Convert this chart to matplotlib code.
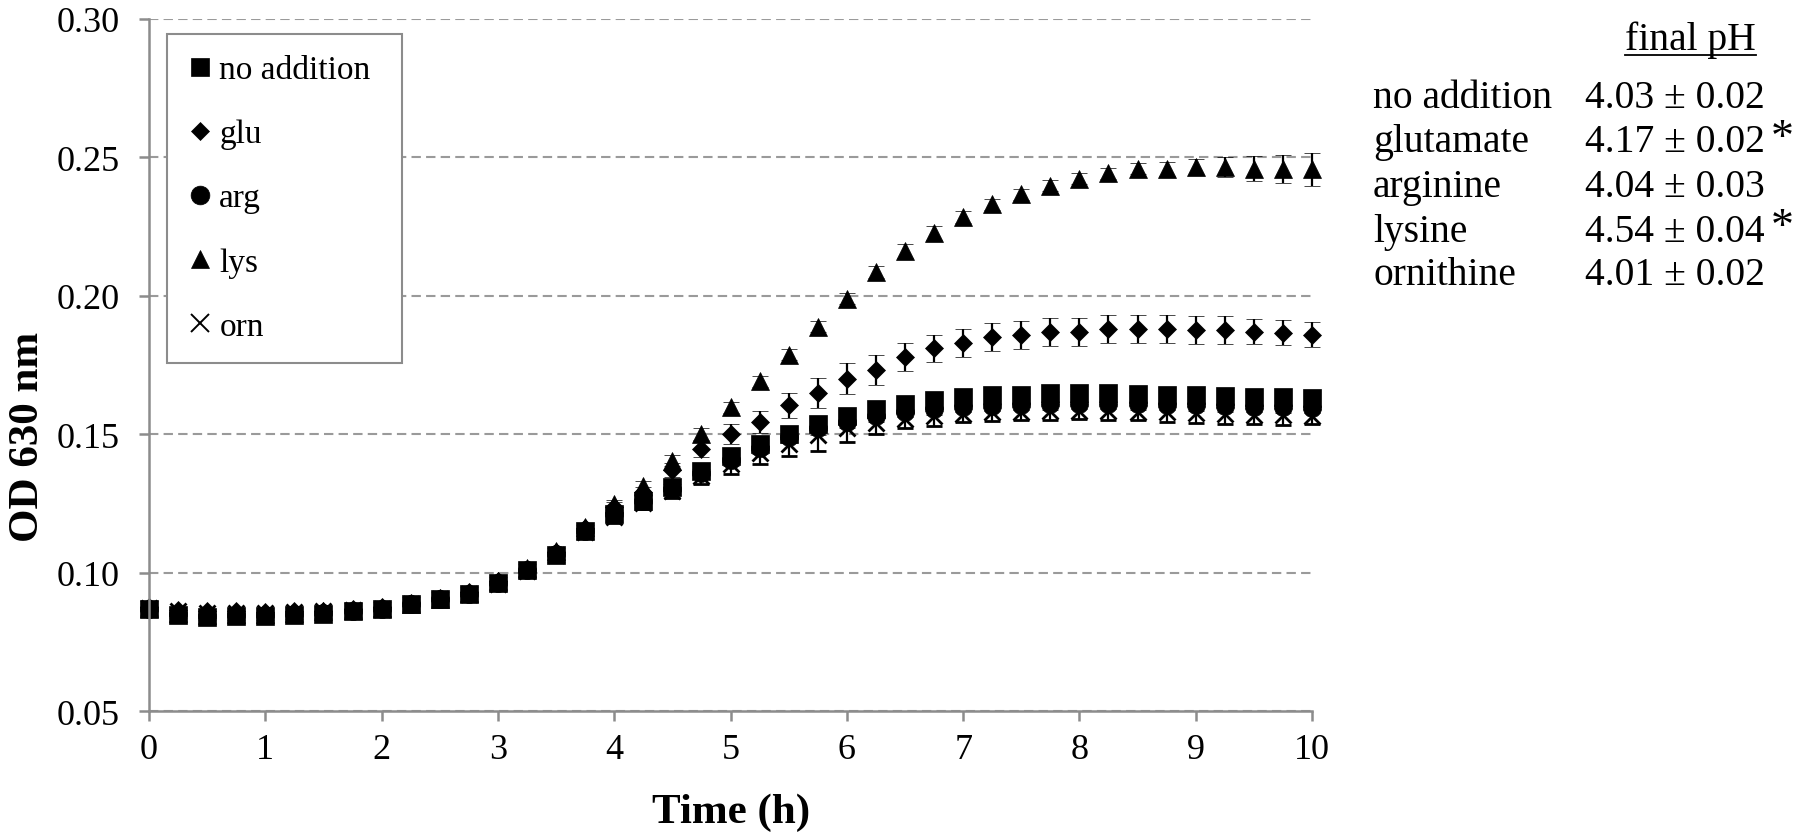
import matplotlib
matplotlib.use("Agg")
import matplotlib.pyplot as plt
from matplotlib.lines import Line2D
import numpy as np

plt.rcParams['font.family'] = ['Liberation Serif', 'DejaVu Serif']

# time points (h), every 15 min
time_h = [0.0, 0.25, 0.5, 0.75, 1.0, 1.25, 1.5, 1.75, 2.0, 2.25, 2.5, 2.75,
          3.0, 3.25, 3.5, 3.75, 4.0, 4.25, 4.5, 4.75, 5.0, 5.25, 5.5, 5.75,
          6.0, 6.25, 6.5, 6.75, 7.0, 7.25, 7.5, 7.75, 8.0, 8.25, 8.5, 8.75,
          9.0, 9.25, 9.5, 9.75, 10.0]

od_none = [0.0870, 0.0848, 0.0838, 0.0842, 0.0842, 0.0848, 0.0852, 0.0860, 0.0868, 0.0885, 0.0903, 0.0922,
           0.0962, 0.1008, 0.1065, 0.1150, 0.1210, 0.1260, 0.1310, 0.1365, 0.1420, 0.1465, 0.1500, 0.1535,
           0.1565, 0.1590, 0.1610, 0.1622, 0.1635, 0.1640, 0.1642, 0.1648, 0.1648, 0.1648, 0.1645, 0.1642,
           0.1640, 0.1638, 0.1635, 0.1632, 0.1630]
err_none = [0.0010, 0.0010, 0.0010, 0.0010, 0.0010, 0.0010, 0.0010, 0.0010, 0.0010, 0.0010, 0.0010, 0.0010,
            0.0012, 0.0012, 0.0012, 0.0015, 0.0015, 0.0015, 0.0018, 0.0020, 0.0020, 0.0020, 0.0020, 0.0020,
            0.0020, 0.0018, 0.0018, 0.0018, 0.0018, 0.0018, 0.0018, 0.0018, 0.0018, 0.0018, 0.0018, 0.0018,
            0.0018, 0.0018, 0.0018, 0.0018, 0.0018]

od_glu = [0.0875, 0.0865, 0.0860, 0.0860, 0.0858, 0.0860, 0.0862, 0.0868, 0.0875, 0.0890, 0.0908, 0.0928,
          0.0968, 0.1012, 0.1075, 0.1160, 0.1235, 0.1290, 0.1370, 0.1446, 0.1500, 0.1544, 0.1603, 0.1648,
          0.1700, 0.1731, 0.1779, 0.1809, 0.1829, 0.1849, 0.1858, 0.1869, 0.1869, 0.1879, 0.1879, 0.1879,
          0.1876, 0.1876, 0.1870, 0.1866, 0.1858]
err_glu = [0.0010, 0.0010, 0.0010, 0.0010, 0.0010, 0.0010, 0.0010, 0.0010, 0.0010, 0.0010, 0.0010, 0.0012,
           0.0012, 0.0012, 0.0015, 0.0015, 0.0020, 0.0020, 0.0025, 0.0030, 0.0035, 0.0040, 0.0045, 0.0055,
           0.0055, 0.0055, 0.0050, 0.0050, 0.0050, 0.0050, 0.0050, 0.0050, 0.0050, 0.0050, 0.0050, 0.0050,
           0.0050, 0.0050, 0.0045, 0.0045, 0.0045]

od_arg = [0.0870, 0.0850, 0.0842, 0.0845, 0.0845, 0.0850, 0.0855, 0.0862, 0.0870, 0.0886, 0.0904, 0.0924,
          0.0964, 0.1010, 0.1068, 0.1150, 0.1210, 0.1258, 0.1300, 0.1360, 0.1405, 0.1450, 0.1490, 0.1520,
          0.1545, 0.1565, 0.1580, 0.1590, 0.1598, 0.1602, 0.1605, 0.1608, 0.1610, 0.1610, 0.1608, 0.1605,
          0.1603, 0.1600, 0.1598, 0.1596, 0.1595]
err_arg = [0.0010, 0.0010, 0.0010, 0.0010, 0.0010, 0.0010, 0.0010, 0.0010, 0.0010, 0.0010, 0.0010, 0.0010,
           0.0012, 0.0012, 0.0012, 0.0015, 0.0015, 0.0018, 0.0020, 0.0020, 0.0022, 0.0022, 0.0022, 0.0022,
           0.0022, 0.0020, 0.0020, 0.0020, 0.0020, 0.0020, 0.0020, 0.0020, 0.0020, 0.0020, 0.0020, 0.0020,
           0.0020, 0.0020, 0.0020, 0.0020, 0.0020]

od_lys = [0.0872, 0.0855, 0.0848, 0.0850, 0.0850, 0.0855, 0.0860, 0.0866, 0.0872, 0.0888, 0.0906, 0.0926,
          0.0968, 0.1015, 0.1078, 0.1164, 0.1247, 0.1313, 0.1404, 0.1500, 0.1596, 0.1690, 0.1786, 0.1887,
          0.1989, 0.2084, 0.2162, 0.2225, 0.2282, 0.2330, 0.2366, 0.2396, 0.2421, 0.2442, 0.2457, 0.2457,
          0.2464, 0.2464, 0.2458, 0.2456, 0.2455]
err_lys = [0.0010, 0.0010, 0.0010, 0.0010, 0.0010, 0.0010, 0.0010, 0.0010, 0.0010, 0.0010, 0.0010, 0.0010,
           0.0012, 0.0012, 0.0012, 0.0015, 0.0015, 0.0018, 0.0020, 0.0020, 0.0020, 0.0020, 0.0020, 0.0020,
           0.0020, 0.0022, 0.0025, 0.0025, 0.0022, 0.0020, 0.0020, 0.0020, 0.0020, 0.0020, 0.0020, 0.0025,
           0.0030, 0.0035, 0.0045, 0.0050, 0.0060]

od_orn = [0.0872, 0.0860, 0.0855, 0.0855, 0.0855, 0.0858, 0.0860, 0.0865, 0.0870, 0.0885, 0.0903, 0.0922,
          0.0960, 0.1005, 0.1062, 0.1145, 0.1200, 0.1250, 0.1295, 0.1350, 0.1390, 0.1430, 0.1465, 0.1495,
          0.1520, 0.1540, 0.1555, 0.1565, 0.1572, 0.1578, 0.1580, 0.1582, 0.1583, 0.1582, 0.1580, 0.1578,
          0.1575, 0.1572, 0.1570, 0.1568, 0.1565]
err_orn = [0.0010, 0.0010, 0.0010, 0.0010, 0.0010, 0.0010, 0.0010, 0.0010, 0.0010, 0.0010, 0.0010, 0.0010,
           0.0012, 0.0012, 0.0015, 0.0015, 0.0020, 0.0020, 0.0025, 0.0030, 0.0035, 0.0040, 0.0045, 0.0055,
           0.0050, 0.0040, 0.0035, 0.0035, 0.0030, 0.0030, 0.0030, 0.0030, 0.0030, 0.0030, 0.0030, 0.0035,
           0.0035, 0.0035, 0.0035, 0.0035, 0.0030]

legend_labels = ['no addition', 'glu', 'arg', 'lys', 'orn']
ph_names = ['no addition', 'glutamate', 'arginine', 'lysine', 'ornithine']
ph_values = ['4.03 \u00b1 0.02', '4.17 \u00b1 0.02', '4.04 \u00b1 0.03', '4.54 \u00b1 0.04', '4.01 \u00b1 0.02']
ph_signif = [False, True, False, True, False]

x_ticks = [0, 1, 2, 3, 4, 5, 6, 7, 8, 9, 10]
y_ticks = [0.05, 0.10, 0.15, 0.20, 0.25, 0.30]

gray = '#8c8c8c'

fig = plt.figure(figsize=(18, 8.37), dpi=100)
ax = fig.add_axes([0.0828, 0.1493, 0.6461, 0.8274])

# draw order: bottom first so squares sit on top
series = [
    (od_orn, err_orn, 'x'),
    (od_arg, err_arg, 'o'),
    (od_glu, err_glu, 'D'),
    (od_lys, err_lys, '^'),
    (od_none, err_none, 's'),
]
sizes = {'x': 12, 'o': 13, 'D': 9.5, '^': 13, 's': 12.5}
for vals, errs, mk in series:
    ax.errorbar(time_h, vals, yerr=errs, fmt=mk, color='black', ecolor='black',
                markersize=sizes[mk], markeredgewidth=2 if mk == 'x' else 0.5,
                elinewidth=1.6, capsize=5.5, capthick=1.6, linestyle='none',
                clip_on=False)

ax.set_xlim(0, 10)
ax.set_ylim(0.05, 0.30)
ax.set_xticks(x_ticks)
ax.set_yticks(y_ticks)
ax.set_yticklabels(['%.2f' % v for v in y_ticks])
ax.tick_params(axis='both', labelsize=26, color=gray, width=1.8, length=7)
ax.tick_params(axis='x', pad=9)
ax.tick_params(axis='y', pad=14)

ax.yaxis.grid(True, color='#9a9a9a', linewidth=1.5, dashes=(4.5, 2.5))
ax.set_axisbelow(True)
for side in ['top', 'right']:
    ax.spines[side].set_visible(False)
for side in ['left', 'bottom']:
    ax.spines[side].set_color(gray)
    ax.spines[side].set_linewidth(1.8)

fig.text(0.406, 0.0167, 'Time (h)', fontsize=31, fontweight='bold',
         ha='center', va='baseline')
fig.text(0.0155, 0.478, 'OD 630 nm', fontsize=31, fontweight='bold',
         rotation=90, ha='center', va='center')

# legend shows markers only
leg_sizes = {'s': 13, 'D': 9.5, 'o': 13.5, '^': 13.5, 'x': 13}
handles = []
for mk, lab in zip(['s', 'D', 'o', '^', 'x'], legend_labels):
    handles.append(Line2D([], [], marker=mk, color='black', linestyle='none',
                          markersize=leg_sizes[mk],
                          markeredgewidth=1.4 if mk == 'x' else 0.5, label=lab))
leg = fig.legend(handles=handles, loc='upper left', mode='expand',
                 bbox_to_anchor=(167 / 1800, 1 - 358 / 837, 235 / 1800, 323 / 837),
                 fontsize=24, frameon=True, fancybox=False, framealpha=1,
                 edgecolor=gray, borderpad=0.62, labelspacing=1.01,
                 handlelength=0.75, handletextpad=0.2, borderaxespad=0)
leg.get_frame().set_linewidth(1.5)
leg.set_zorder(5)

# final pH table
head = fig.text(0.9028, 0.940, 'final pH', fontsize=28.5, ha='left', va='baseline')
row_y = [0.871, 0.818, 0.765, 0.711, 0.659]
for name, val, sig, yy in zip(ph_names, ph_values, ph_signif, row_y):
    fig.text(0.7628, yy, name, fontsize=28.5, ha='left', va='baseline')
    fig.text(0.8806, yy, val, fontsize=28.5, ha='left', va='baseline')
    if sig:
        fig.text(0.9835, yy + 0.002, '*', fontsize=33, ha='left', va='baseline')

fig.canvas.draw()
bb = head.get_window_extent().transformed(fig.transFigure.inverted())
fig.add_artist(Line2D([bb.x0, bb.x1], [0.933, 0.933], color='black',
                      linewidth=1.3, transform=fig.transFigure))

fig.savefig('out.png', dpi=100)
